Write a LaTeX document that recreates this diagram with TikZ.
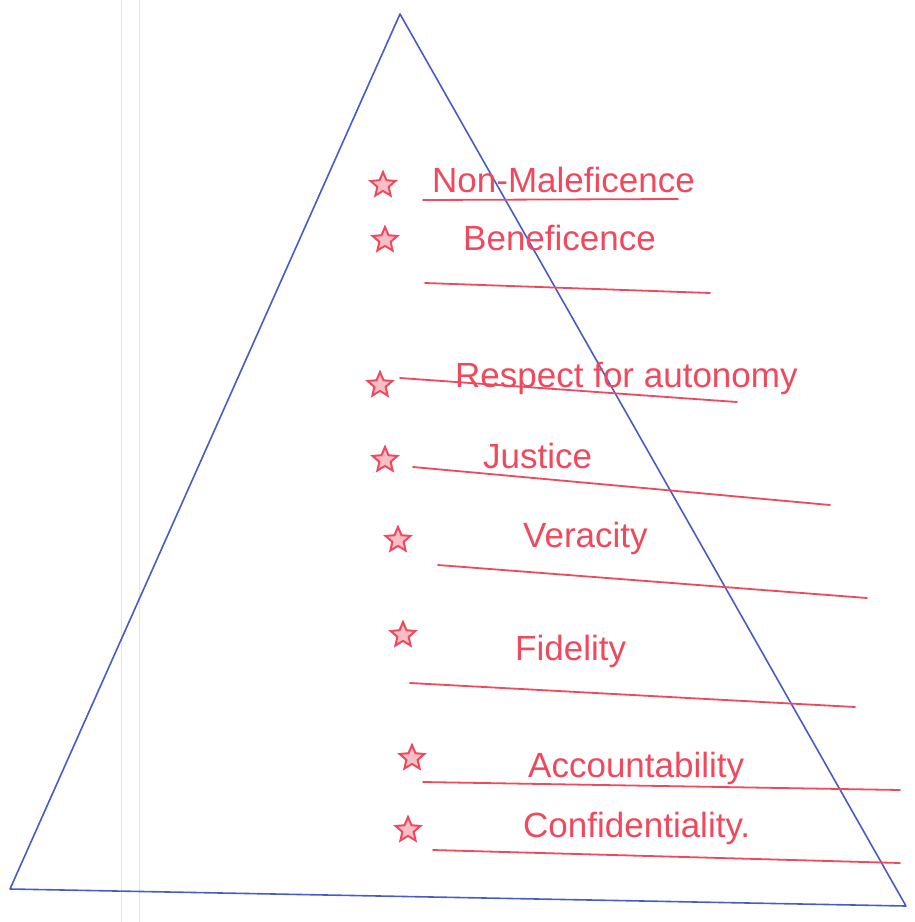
\documentclass[tikz,border=0pt]{standalone}
\usepackage{fontspec}
\setmainfont{Liberation Sans}
\usetikzlibrary{shapes.geometric}
\definecolor{PenBlue}{RGB}{72,92,200}
\definecolor{PenRed}{RGB}{240,72,92}
\definecolor{MarginGray}{RGB}{228,228,234}
\begin{document}
\begin{tikzpicture}[x=1pt,y=-1pt,
  pen/.style={PenBlue,line width=1.6pt,line join=round},
  uline/.style={PenRed,line width=1.8pt,line cap=round},
  bullet/.style={star,star points=5,star point ratio=2.2,draw=PenRed,fill=PenRed!35,line width=2pt,minimum size=26pt,inner sep=0pt},
  lbl/.style={PenRed,anchor=west,inner sep=0pt,font=\fontsize{35}{40}\selectfont}]
\useasboundingbox (0,0) rectangle (914,922);
% notebook margin
\draw[MarginGray,line width=1pt] (121,0) -- (121,922);
\draw[MarginGray,line width=1pt] (139,0) -- (139,922);
% the triangle
\coordinate (apex) at (400,14);
\coordinate (baseL) at (10,889);
\coordinate (baseR) at (906,906);
\draw[pen] (apex) -- (baseL) -- (baseR) -- cycle;
% principles
\foreach \i/\sx/\sy/\tx/\ty/\ax/\ay/\bx/\by/\t in %
{1/383/185/432/180/423/200/678/199/Non-Maleficence,
 2/385/240/463/238/425/283/710/293/Beneficence,
 3/380/385/455/378/400/378/737/402/Respect for autonomy,
 4/385/460/483/456/413/467/830/505/Justice,
 5/398/540/523/538/438/565/867/598/Veracity,
 6/403/635/515/651/410/683/855/707/Fidelity,
 7/412/758/528/768/423/782/900/790/Accountability,
 8/408/830/523/828/433/850/900/863/Confidentiality.} {
   \node[bullet] (star\i) at (\sx,\sy) {};
   \node[lbl] (lbl\i) at (\tx,\ty) {\t};
   \coordinate (ula\i) at (\ax,\ay);
   \coordinate (ulb\i) at (\bx,\by);
   \draw[uline] (ula\i) -- (ulb\i);
}
\end{tikzpicture}
\end{document}
